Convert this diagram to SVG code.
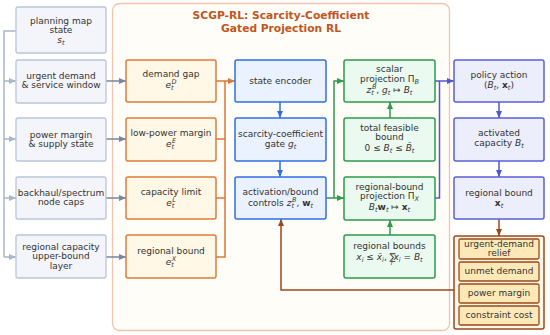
<svg xmlns="http://www.w3.org/2000/svg" width="550" height="335" viewBox="0 0 550 335">
<style>
text{font-family:"DejaVu Sans","Liberation Sans",sans-serif;font-size:9px;fill:#333;text-anchor:middle}
.title{font-size:10.7px;font-weight:bold;fill:#c0561e}
.it{font-style:italic}
.bf{font-weight:bold}
.s{font-size:6.5px}
.in{fill:#f3f5fa;stroke:#b9c5d6;stroke-width:1.3}
.or{fill:#fff8e6;stroke:#e07b39;stroke-width:1.5}
.bl{fill:#eaf2ff;stroke:#2f6fe4;stroke-width:1.5}
.gr{fill:#eafaf0;stroke:#2e9a4a;stroke-width:1.5}
.pu{fill:#eceefc;stroke:#5a5fd6;stroke-width:1.5}
.ob{fill:#fff6e8;stroke:#9a4a1a;stroke-width:1.5}
.oi{fill:#fde9b8;stroke:#9a4a1a;stroke-width:1.3}
.c{fill:none;stroke-width:1.5}
</style>
<defs>
<marker id="aIn" markerUnits="userSpaceOnUse" markerWidth="8" markerHeight="8" refX="7" refY="4" orient="auto"><path d="M0,1 L7,4 L0,7 z" fill="#a9b6c8"/></marker>
<marker id="aSl" markerUnits="userSpaceOnUse" markerWidth="8" markerHeight="8" refX="7" refY="4" orient="auto"><path d="M0,1 L7,4 L0,7 z" fill="#7486a0"/></marker>
<marker id="aOr" markerUnits="userSpaceOnUse" markerWidth="8" markerHeight="8" refX="7" refY="4" orient="auto"><path d="M0,1 L7,4 L0,7 z" fill="#d9773a"/></marker>
<marker id="aBl" markerUnits="userSpaceOnUse" markerWidth="8" markerHeight="8" refX="7" refY="4" orient="auto"><path d="M0,1 L7,4 L0,7 z" fill="#2f6fe4"/></marker>
<marker id="aGr" markerUnits="userSpaceOnUse" markerWidth="8" markerHeight="8" refX="7" refY="4" orient="auto"><path d="M0,1 L7,4 L0,7 z" fill="#2e9a4a"/></marker>
<marker id="aPu" markerUnits="userSpaceOnUse" markerWidth="8" markerHeight="8" refX="7" refY="4" orient="auto"><path d="M0,1 L7,4 L0,7 z" fill="#5055d0"/></marker>
<marker id="aBr" markerUnits="userSpaceOnUse" markerWidth="8" markerHeight="8" refX="7" refY="4" orient="auto"><path d="M0,1 L7,4 L0,7 z" fill="#9a4a1a"/></marker>
</defs>
<rect width="550" height="335" fill="#ffffff"/>

<g id="panel">
<rect x="112.5" y="3.5" width="337" height="327" rx="7" fill="#fffdf8" stroke="#f2c4ae" stroke-width="1.3"/>
<text class="title" x="281" y="19">SCGP-RL: Scarcity-Coefficient</text>
<text class="title" x="281" y="32">Gated Projection RL</text>
</g>

<g id="connectors">
<path class="c" stroke="#a9b6c8" d="M16,31 H4 V257"/>
<path class="c" stroke="#a9b6c8" d="M4,81 H16" marker-end="url(#aIn)"/>
<path class="c" stroke="#a9b6c8" d="M4,139 H16" marker-end="url(#aIn)"/>
<path class="c" stroke="#a9b6c8" d="M4,198 H16" marker-end="url(#aIn)"/>
<path class="c" stroke="#a9b6c8" d="M4,257 H16" marker-end="url(#aIn)"/>
<path class="c" stroke="#7486a0" d="M106,81 H126" marker-end="url(#aSl)"/>
<path class="c" stroke="#7486a0" d="M106,139 H126" marker-end="url(#aSl)"/>
<path class="c" stroke="#7486a0" d="M106,198 H126" marker-end="url(#aSl)"/>
<path class="c" stroke="#7486a0" d="M106,257 H126" marker-end="url(#aSl)"/>
<path class="c" stroke="#d9773a" d="M216,81 H235" marker-end="url(#aOr)"/>
<path class="c" stroke="#d9773a" d="M216,139 H225 M216,198 H225 M216,257 H225 V81"/>
<path class="c" stroke="#2f6fe4" d="M280,102 V118" marker-end="url(#aBl)"/>
<path class="c" stroke="#2f6fe4" d="M280,161 V177" marker-end="url(#aBl)"/>
<path class="c" stroke="#2e9a4a" d="M326,198 H344" marker-end="url(#aGr)"/>
<path class="c" stroke="#2e9a4a" d="M334,198 V81 H344" marker-end="url(#aGr)"/>
<path class="c" stroke="#2e9a4a" d="M390,118 V102" marker-end="url(#aGr)"/>
<path class="c" stroke="#2e9a4a" d="M390,235 V220" marker-end="url(#aGr)"/>
<path class="c" stroke="#5055d0" d="M435,81 H454" marker-end="url(#aPu)"/>
<path class="c" stroke="#5055d0" d="M435,198 H439.5 V81"/>
<path class="c" stroke="#5055d0" d="M499,102 V118" marker-end="url(#aPu)"/>
<path class="c" stroke="#5055d0" d="M499,161 V177" marker-end="url(#aPu)"/>
<path class="c" stroke="#9a4a1a" d="M499,219 V236" marker-end="url(#aBr)"/>
<path class="c" stroke="#9a4a1a" d="M454,290 H281 V219" marker-end="url(#aBr)"/>
</g>

<g id="in1"><rect class="in" x="16" y="7" width="90" height="46" rx="2"/>
<text x="61" y="24">planning map</text><text x="61" y="33">state</text>
<text x="61" y="43"><tspan class="it">s</tspan><tspan class="it s" dy="2">t</tspan></text></g>
<g id="in2"><rect class="in" x="16" y="60" width="90" height="43" rx="2"/>
<text x="61" y="79">urgent demand</text><text x="61" y="88">&amp; service window</text></g>
<g id="in3"><rect class="in" x="16" y="118" width="90" height="43" rx="2"/>
<text x="61" y="138">power margin</text><text x="61" y="147">&amp; supply state</text></g>
<g id="in4"><rect class="in" x="16" y="177" width="90" height="42" rx="2"/>
<text x="61" y="196">backhaul/spectrum</text><text x="61" y="205">node caps</text></g>
<g id="in5"><rect class="in" x="16" y="235" width="90" height="43" rx="2"/>
<text x="61" y="250">regional capacity</text><text x="61" y="259">upper-bound</text><text x="61" y="269">layer</text></g>

<g id="or1"><rect class="or" x="126" y="60" width="90" height="42" rx="2"/>
<text x="171" y="77">demand gap</text>
<text x="171" y="88"><tspan class="it">e</tspan><tspan class="it s" dy="2">t</tspan><tspan class="it s" dx="-2" dy="-6">D</tspan></text></g>
<g id="or2"><rect class="or" x="126" y="118" width="90" height="43" rx="2"/>
<text x="171" y="136">low-power margin</text>
<text x="171" y="147"><tspan class="it">e</tspan><tspan class="it s" dy="2">t</tspan><tspan class="it s" dx="-2" dy="-6">E</tspan></text></g>
<g id="or3"><rect class="or" x="126" y="177" width="90" height="42" rx="2"/>
<text x="171" y="195">capacity limit</text>
<text x="171" y="206"><tspan class="it">e</tspan><tspan class="it s" dy="2">t</tspan><tspan class="it s" dx="-2" dy="-6">L</tspan></text></g>
<g id="or4"><rect class="or" x="126" y="235" width="90" height="43" rx="2"/>
<text x="171" y="254">regional bound</text>
<text x="171" y="265"><tspan class="it">e</tspan><tspan class="it s" dy="2">t</tspan><tspan class="it s" dx="-2" dy="-6">X</tspan></text></g>

<g id="bl1"><rect class="bl" x="235" y="60" width="91" height="42" rx="2"/>
<text x="280.5" y="84">state encoder</text></g>
<g id="bl2"><rect class="bl" x="235" y="118" width="91" height="43" rx="2"/>
<text x="280.5" y="137">scarcity-coefficient</text>
<text x="280.5" y="147">gate <tspan class="it">g</tspan><tspan class="it s" dy="2">t</tspan></text></g>
<g id="bl3"><rect class="bl" x="235" y="177" width="91" height="42" rx="2"/>
<text x="280.5" y="195">activation/bound</text>
<text x="280.5" y="206">controls <tspan class="it">z</tspan><tspan class="it s" dy="2">t</tspan><tspan class="it s" dx="-2" dy="-6">B</tspan><tspan dy="4">, </tspan><tspan class="bf">w</tspan><tspan class="it s" dy="2">t</tspan></text></g>

<g id="gr1"><rect class="gr" x="344" y="60" width="91" height="42" rx="2"/>
<text x="389.5" y="72">scalar</text>
<text x="389.5" y="82">projection Π<tspan class="it s" dy="2">B</tspan></text>
<text x="389.5" y="93"><tspan class="it">z</tspan><tspan class="it s" dy="2">t</tspan><tspan class="it s" dx="-2" dy="-6">B</tspan><tspan dy="4">, </tspan><tspan class="it">g</tspan><tspan class="it s" dy="2">t</tspan><tspan dy="-2"> ↦ </tspan><tspan class="it">B</tspan><tspan class="it s" dy="2">t</tspan></text></g>
<g id="gr2"><rect class="gr" x="344" y="118" width="91" height="43" rx="2"/>
<text x="389.5" y="131">total feasible</text>
<text x="389.5" y="140">bound</text>
<text x="389.5" y="151">0 ≤ <tspan class="it">B</tspan><tspan class="it s" dy="2">t</tspan><tspan dy="-2"> ≤ </tspan><tspan class="it">B̄</tspan><tspan class="it s" dy="2">t</tspan></text></g>
<g id="gr3"><rect class="gr" x="344" y="177" width="91" height="43" rx="2"/>
<text x="389.5" y="190">regional-bound</text>
<text x="389.5" y="199">projection Π<tspan class="it s" dy="2">X</tspan></text>
<text x="389.5" y="210"><tspan class="it">B</tspan><tspan class="it s" dy="2">t</tspan><tspan class="bf" dy="-2">w</tspan><tspan class="it s" dy="2">t</tspan><tspan dy="-2"> ↦ </tspan><tspan class="bf">x</tspan><tspan class="it s" dy="2">t</tspan></text></g>
<g id="gr4"><rect class="gr" x="344" y="235" width="91" height="43" rx="2"/>
<text x="389.5" y="249">regional bounds</text>
<text x="389.5" y="260"><tspan class="it">x</tspan><tspan class="it s" dy="2">i</tspan><tspan dy="-2"> ≤ </tspan><tspan class="it">x̄</tspan><tspan class="it s" dy="2">i</tspan><tspan dy="-2">, </tspan><tspan>∑</tspan><tspan class="it s" dx="-5" dy="5">i</tspan><tspan class="it" dx="1" dy="-5">x</tspan><tspan class="it s" dy="2">i</tspan><tspan dy="-2"> = </tspan><tspan class="it">B</tspan><tspan class="it s" dy="2">t</tspan></text></g>

<g id="pu1"><rect class="pu" x="454" y="60" width="90" height="42" rx="2"/>
<text x="499" y="78">policy action</text>
<text x="499" y="88">(<tspan class="it">B</tspan><tspan class="it s" dy="2">t</tspan><tspan dy="-2">, </tspan><tspan class="bf">x</tspan><tspan class="it s" dy="2">t</tspan><tspan dy="-2">)</tspan></text></g>
<g id="pu2"><rect class="pu" x="454" y="118" width="90" height="43" rx="2"/>
<text x="499" y="136">activated</text>
<text x="499" y="146">capacity <tspan class="it">B</tspan><tspan class="it s" dy="2">t</tspan></text></g>
<g id="pu3"><rect class="pu" x="454" y="177" width="90" height="42" rx="2"/>
<text x="499" y="196">regional bound</text>
<text x="499" y="206"><tspan class="bf">x</tspan><tspan class="it s" dy="2">t</tspan></text></g>

<g id="outcomes"><rect class="ob" x="454" y="236" width="90" height="93" rx="2"/>
<rect class="oi" x="459" y="239" width="80" height="20" rx="1.5"/>
<text x="499" y="247">urgent-demand</text><text x="499" y="256">relief</text>
<rect class="oi" x="459" y="262" width="80" height="19" rx="1.5"/>
<text x="499" y="274">unmet demand</text>
<rect class="oi" x="459" y="284" width="80" height="19" rx="1.5"/>
<text x="499" y="296">power margin</text>
<rect class="oi" x="459" y="306" width="80" height="19" rx="1.5"/>
<text x="499" y="318">constraint cost</text></g>
</svg>
